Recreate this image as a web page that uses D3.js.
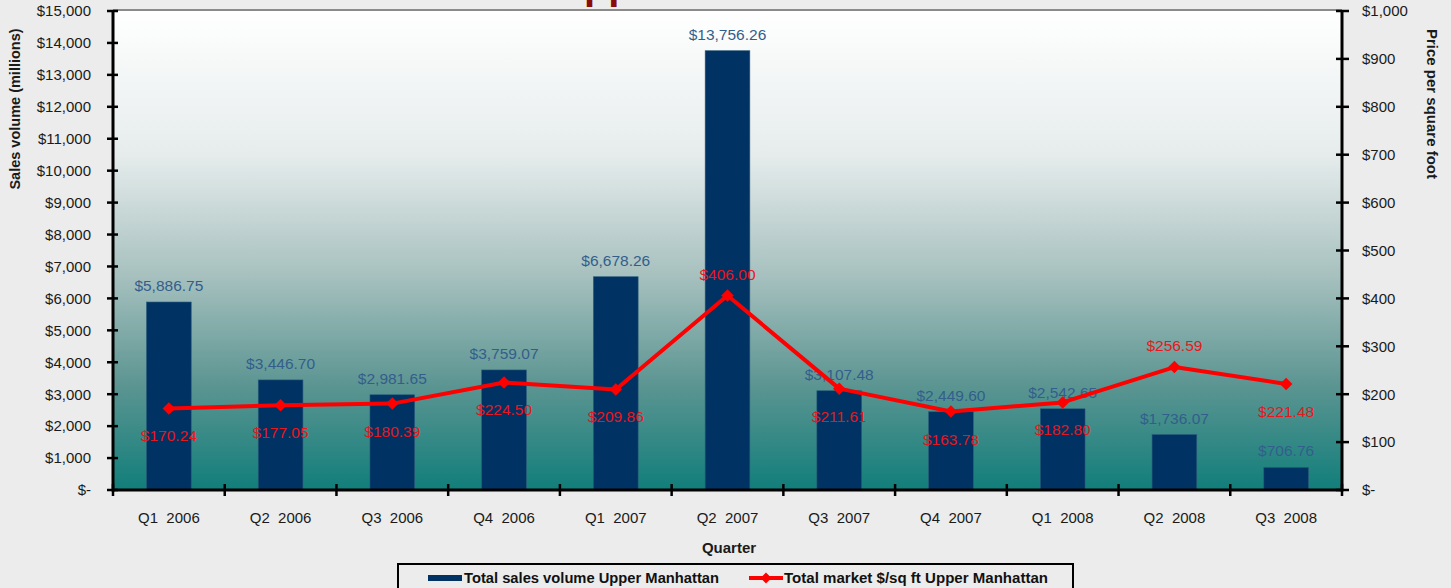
<!DOCTYPE html>
<html>
<head>
<meta charset="utf-8">
<script src="https://cdn.jsdelivr.net/npm/d3@7"></script>
<style>
  html, body { margin: 0; padding: 0; background: #ebeceb; }
  svg { display: block; font-family: "Liberation Sans", Arial, sans-serif; }
</style>
</head>
<body>
<svg id="chart" width="1451" height="588"></svg>
<script>
const categories = ["Q1  2006","Q2  2006","Q3  2006","Q4  2006","Q1  2007","Q2  2007","Q3  2007","Q4  2007","Q1  2008","Q2  2008","Q3  2008"];
const salesVolume = [5886.75, 3446.70, 2981.65, 3759.07, 6678.26, 13756.26, 3107.48, 2449.60, 2542.65, 1736.07, 706.76];
const pricePerSqFt = [170.24, 177.05, 180.39, 224.50, 209.86, 406.00, 211.61, 163.78, 182.80, 256.59, 221.48];
const leftTicks = [0,1000,2000,3000,4000,5000,6000,7000,8000,9000,10000,11000,12000,13000,14000,15000];
const rightTicks = [0,100,200,300,400,500,600,700,800,900,1000];
const seriesNames = ["Total sales volume Upper Manhattan", "Total market $/sq ft Upper Manhattan"];
const chartTitle = "Upper Manhattan";

const svg = d3.select("#chart");
const m = {left: 113, right: 1342, top: 11, bottom: 490};

const x = d3.scaleBand().domain(categories).range([m.left, m.right]).paddingInner(0).paddingOuter(0);
const yL = d3.scaleLinear().domain([0, 15000]).range([m.bottom, m.top]);
const yR = d3.scaleLinear().domain([0, 1000]).range([m.bottom, m.top]);

// title (mostly cut off at top)
svg.append("text").attr("x", 555).attr("y", -1)
  .attr("font-size", 40).attr("font-weight", "bold").attr("fill", "#8b0a0a")
  .text(chartTitle);

// gradient plot background
const defs = svg.append("defs");
const grad = defs.append("linearGradient").attr("id", "bg").attr("x1", 0).attr("y1", 0).attr("x2", 0).attr("y2", 1);
[[0, "#ffffff"], [0.3, "#e6ecec"], [0.55, "#a7c1bf"], [0.78, "#5c9592"], [1, "#117e7a"]]
  .forEach(([o, c]) => grad.append("stop").attr("offset", o).attr("stop-color", c));
svg.append("rect").attr("x", m.left).attr("y", m.top).attr("width", m.right - m.left).attr("height", m.bottom - m.top)
  .attr("fill", "url(#bg)");
svg.append("line").attr("x1", m.left).attr("x2", m.right).attr("y1", m.top - 1).attr("y2", m.top - 1)
  .attr("stroke", "#8a8a8a").attr("stroke-width", 2);

// bars
const bw = x.bandwidth() * 0.4;
svg.append("g").selectAll("rect").data(salesVolume).join("rect")
  .attr("x", (d, i) => x(categories[i]) + (x.bandwidth() - bw) / 2)
  .attr("width", bw)
  .attr("y", d => yL(d))
  .attr("height", d => yL(0) - yL(d))
  .attr("fill", "#003263")
  .attr("stroke", "#2b5a7a").attr("stroke-width", 0.6);

// bar labels
const fmtSales = d3.format(",.2f");
svg.append("g").selectAll("text").data(salesVolume).join("text")
  .attr("x", (d, i) => x(categories[i]) + x.bandwidth() / 2)
  .attr("y", d => yL(d) - 11)
  .attr("text-anchor", "middle").attr("font-size", 15.5).attr("fill", "#335e8c")
  .text(d => "$" + fmtSales(d));

// axes
const fmtL = d => d === 0 ? "$-" : "$" + d3.format(",")(d);
const axL = svg.append("g").attr("transform", `translate(${m.left},0)`)
  .call(d3.axisLeft(yL).tickValues(leftTicks).tickFormat(fmtL).tickSize(0).tickPadding(22));
axL.select(".domain").remove();
axL.selectAll("text").attr("font-size", 15).attr("fill", "#1a1a1a").attr("font-family", "Liberation Sans, Arial, sans-serif");
svg.append("g").selectAll("line").data(leftTicks).join("line")
  .attr("x1", m.left - 6).attr("x2", m.left + 5).attr("y1", d => yL(d)).attr("y2", d => yL(d))
  .attr("stroke", "#000").attr("stroke-width", 2.5);

const fmtR = d => d === 0 ? "$-" : "$" + d3.format(",")(d);
const axR = svg.append("g").attr("transform", `translate(${m.right},0)`)
  .call(d3.axisRight(yR).tickValues(rightTicks).tickFormat(fmtR).tickSize(0).tickPadding(20));
axR.select(".domain").remove();
axR.selectAll("text").attr("font-size", 15).attr("fill", "#1a1a1a").attr("font-family", "Liberation Sans, Arial, sans-serif");
svg.append("g").selectAll("line").data(rightTicks).join("line")
  .attr("x1", m.right - 6).attr("x2", m.right + 7).attr("y1", d => yR(d)).attr("y2", d => yR(d))
  .attr("stroke", "#000").attr("stroke-width", 2.5);

// bottom axis labels
const axB = svg.append("g").attr("transform", `translate(0,${m.bottom})`)
  .call(d3.axisBottom(x).tickSize(0).tickPadding(22));
axB.select(".domain").remove();
axB.selectAll("text").attr("font-size", 15).attr("fill", "#1a1a1a").style("white-space", "pre")
  .attr("font-family", "Liberation Sans, Arial, sans-serif");
const bounds = categories.map(c => x(c)).concat([m.right]);
svg.append("g").selectAll("line").data(bounds).join("line")
  .attr("x1", d => d).attr("x2", d => d).attr("y1", m.bottom - 6).attr("y2", m.bottom + 6)
  .attr("stroke", "#000").attr("stroke-width", 2.5);

// axis lines
svg.append("line").attr("x1", m.left).attr("x2", m.left).attr("y1", m.top - 1).attr("y2", m.bottom + 1.5).attr("stroke", "#000").attr("stroke-width", 3);
svg.append("line").attr("x1", m.right).attr("x2", m.right).attr("y1", m.top - 1).attr("y2", m.bottom + 1.5).attr("stroke", "#000").attr("stroke-width", 3);
svg.append("line").attr("x1", m.left).attr("x2", m.right).attr("y1", m.bottom).attr("y2", m.bottom).attr("stroke", "#000").attr("stroke-width", 3);

// price line
const cx = (i) => x(categories[i]) + x.bandwidth() / 2;
svg.append("path").datum(pricePerSqFt)
  .attr("d", d3.line().x((d, i) => cx(i)).y(d => yR(d)))
  .attr("fill", "none").attr("stroke", "#ff0000").attr("stroke-width", 4).attr("stroke-linejoin", "round");
const diamond = d3.symbol().type(d3.symbolSquare).size(78);
svg.append("g").selectAll("path").data(pricePerSqFt).join("path")
  .attr("d", diamond)
  .attr("transform", (d, i) => `translate(${cx(i)},${yR(d)}) rotate(45)`)
  .attr("fill", "#ff0000");

// price labels
svg.append("g").selectAll("text").data(pricePerSqFt).join("text")
  .attr("x", (d, i) => cx(i))
  .attr("y", d => d > 250 ? yR(d) - 16 : yR(d) + 33)
  .attr("text-anchor", "middle").attr("font-size", 15.5).attr("fill", "#e8171c")
  .text(d => "$" + d3.format(".2f")(d));

// axis titles
svg.append("text").attr("transform", "translate(20,109) rotate(-90)")
  .attr("text-anchor", "middle").attr("font-size", 14.5).attr("font-weight", "bold").attr("fill", "#1a1a1a")
  .text("Sales volume (millions)");
svg.append("text").attr("transform", "translate(1427,104) rotate(90)")
  .attr("text-anchor", "middle").attr("font-size", 15).attr("font-weight", "bold").attr("fill", "#1a1a1a")
  .text("Price per square foot");
svg.append("text").attr("x", 729).attr("y", 553)
  .attr("text-anchor", "middle").attr("font-size", 15).attr("font-weight", "bold").attr("fill", "#1a1a1a")
  .text("Quarter");

// legend
svg.append("rect").attr("x", 398).attr("y", 564).attr("width", 675).attr("height", 40)
  .attr("fill", "#ebeceb").attr("stroke", "#000").attr("stroke-width", 2);
svg.append("rect").attr("x", 428).attr("y", 575).attr("width", 34).attr("height", 6).attr("fill", "#003263");
svg.append("text").attr("x", 464).attr("y", 583).attr("font-size", 14).attr("font-weight", "bold").attr("fill", "#111")
  .attr("textLength", 255).attr("lengthAdjust", "spacingAndGlyphs").text(seriesNames[0]);
svg.append("line").attr("x1", 749).attr("x2", 783).attr("y1", 578).attr("y2", 578).attr("stroke", "#ff0000").attr("stroke-width", 4);
svg.append("path").attr("d", d3.symbol().type(d3.symbolSquare).size(60)).attr("transform", "translate(766,578) rotate(45)").attr("fill", "#ff0000");
svg.append("text").attr("x", 784).attr("y", 583).attr("font-size", 14).attr("font-weight", "bold").attr("fill", "#111")
  .attr("textLength", 264).attr("lengthAdjust", "spacingAndGlyphs").text(seriesNames[1]);
</script>
</body>
</html>
